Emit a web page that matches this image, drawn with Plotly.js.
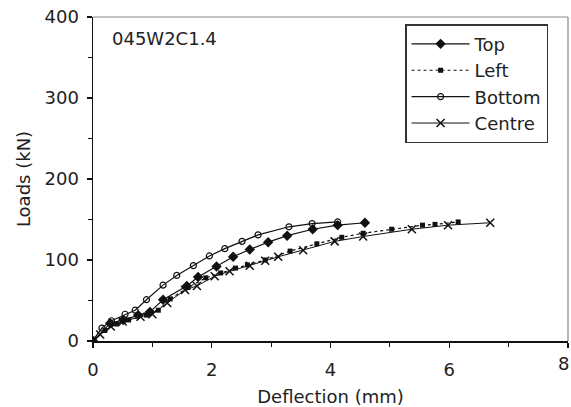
<!DOCTYPE html>
<html><head><meta charset="utf-8">
<script src="https://cdn.plot.ly/plotly-3.0.1.min.js"></script>
<style>body{margin:0;background:#fff}</style>
</head><body><div id="chart" style="width:571px;height:407px"></div>
<script>
const topX = [0, 0.29, 0.51, 0.76, 0.96, 1.18, 1.58, 1.77, 2.08, 2.36, 2.64, 2.95, 3.27, 3.70, 4.12, 4.58];
const topY = [0, 22, 26, 32, 36, 51, 68, 79, 92, 104, 113, 122, 130, 138, 143, 146];
const leftX = [0, 0.2, 0.4, 0.6, 0.9, 1.1, 1.3, 1.6, 1.9, 2.15, 2.4, 2.6, 2.9, 3.32, 3.77, 4.19, 4.55, 5.03, 5.55, 5.76, 6.15];
const leftY = [0, 13, 21, 26, 32, 38, 52, 66, 78, 84, 90, 94, 100, 111, 120, 128, 133, 138, 143, 144, 147];
const bottomX = [0, 0.15, 0.31, 0.54, 0.71, 0.90, 1.18, 1.41, 1.69, 1.96, 2.22, 2.51, 2.78, 3.30, 3.69, 4.12];
const bottomY = [1, 16, 25, 33, 38, 51, 69, 81, 93, 105, 114, 123, 131, 141, 145, 147];
const centreX = [0, 0.12, 0.3, 0.5, 0.8, 1.0, 1.25, 1.55, 1.75, 2.05, 2.3, 2.64, 2.9, 3.12, 3.54, 4.07, 4.55, 5.37, 5.98, 6.69];
const centreY = [0, 8, 18, 24, 30, 33, 47, 63, 68, 80, 86, 93, 99, 104, 112, 123, 129, 138, 143, 146];
const seriesNames = ['Top', 'Left', 'Bottom', 'Centre'];
const label = '045W2C1.4';
const xTitle = 'Deflection (mm)';
const yTitle = 'Loads (kN)';
const xMax = 8;

const F = 'DejaVu Sans, Liberation Sans, Arial, sans-serif';
const FS = 18;
const traces = [
  {x: topX, y: topY, name: seriesNames[0], mode: 'lines+markers',
   line: {color: '#111', width: 1.2}, marker: {symbol: 'diamond', size: 8, color: '#111'}},
  {x: leftX, y: leftY, name: seriesNames[1], mode: 'lines+markers',
   line: {color: '#111', width: 1.2, dash: 'dot'}, marker: {symbol: 'square', size: 5, color: '#111'}},
  {x: bottomX, y: bottomY, name: seriesNames[2], mode: 'lines+markers',
   line: {color: '#111', width: 1.2}, marker: {symbol: 'circle-open', size: 6, color: '#111', line: {width: 1.2}}},
  {x: centreX, y: centreY, name: seriesNames[3], mode: 'lines+markers',
   line: {color: '#111', width: 1}, marker: {symbol: 'x-thin-open', size: 8, color: '#111', line: {width: 1.5}}}
];
const layout = {
  width: 571, height: 407,
  margin: {l: 93, r: 3, t: 17, b: 66},
  paper_bgcolor: '#fff', plot_bgcolor: '#fff',
  font: {family: F, size: FS, color: '#222'},
  showlegend: true,
  legend: {x: 0.657, y: 0.978, xanchor: 'left', yanchor: 'top',
           bordercolor: '#333', borderwidth: 1.5, bgcolor: '#fff',
           font: {family: F, size: FS, color: '#222'}, tracegroupgap: 0, itemwidth: 58, entrywidth: 97},
  xaxis: {range: [0, xMax], dtick: 2, tick0: 0, ticks: 'outside', ticklen: 5, tickwidth: 1.2,
          tickcolor: '#111', showline: true, linecolor: '#111', linewidth: 1.5, showgrid: false, zeroline: false,
          ticklabelstandoff: 7,
          minor: {dtick: 1, ticks: 'outside', ticklen: 4, tickcolor: '#111', showgrid: false},
          title: {text: xTitle, font: {family: F, size: FS}, standoff: 14},
          tickfont: {family: F, size: FS}},
  yaxis: {range: [0, 400], dtick: 100, tick0: 0, ticks: 'outside', ticklen: 5, tickwidth: 1.2,
          tickcolor: '#111', showline: true, linecolor: '#111', linewidth: 1.5, showgrid: false, zeroline: false,
          ticklabelstandoff: 4,
          minor: {dtick: 50, ticks: 'outside', ticklen: 4, tickcolor: '#111', showgrid: false},
          title: {text: yTitle, font: {family: F, size: FS}, standoff: 9},
          tickfont: {family: F, size: FS}},
  shapes: [
    {type: 'line', xref: 'paper', yref: 'paper', x0: 0, x1: 1, y0: 1, y1: 1, line: {color: '#888', width: 1.2}},
    {type: 'line', xref: 'paper', yref: 'paper', x0: 1, x1: 1, y0: 0, y1: 1, line: {color: '#888', width: 1.2}}
  ],
  annotations: [
    {text: label, xref: 'paper', yref: 'paper', x: 0.035, y: 0.934, xanchor: 'left', yanchor: 'middle',
     showarrow: false, font: {family: F, size: FS, color: '#222'}},
    {text: String(xMax), xref: 'x', yref: 'paper', x: xMax, y: 0, yshift: -22, xshift: 3, xanchor: 'right', yanchor: 'middle',
     showarrow: false, font: {family: F, size: FS, color: '#222'}}
  ]
};
Plotly.newPlot('chart', traces, layout, {displayModeBar: false, staticPlot: true});
</script></body></html>
